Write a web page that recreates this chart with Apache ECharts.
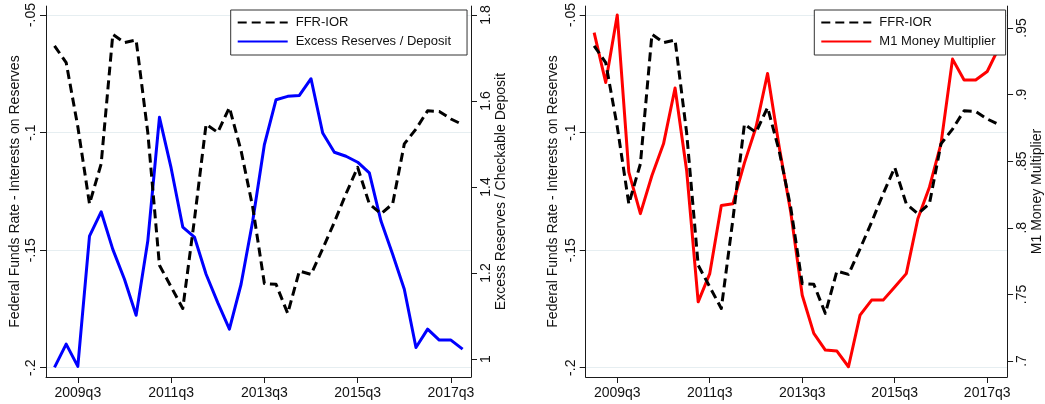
<!DOCTYPE html>
<html>
<head>
<meta charset="utf-8">
<script src="https://cdn.jsdelivr.net/npm/echarts@6.0.0/dist/echarts.min.js"></script>
<style>
  html, body { margin: 0; padding: 0; background: #ffffff; }
  #chart { width: 1045px; height: 404px; }
</style>
</head>
<body>
<div id="chart"></div>
<script>
// ---- data (quarterly, 2009q1 .. 2017q4) ----
const quarters = [
  "2009q1","2009q2","2009q3","2009q4","2010q1","2010q2","2010q3","2010q4",
  "2011q1","2011q2","2011q3","2011q4","2012q1","2012q2","2012q3","2012q4",
  "2013q1","2013q2","2013q3","2013q4","2014q1","2014q2","2014q3","2014q4",
  "2015q1","2015q2","2015q3","2015q4","2016q1","2016q2","2016q3","2016q4",
  "2017q1","2017q2","2017q3","2017q4"
];
const ffrIor = [
  -0.0631, -0.0702, -0.0975, -0.1303, -0.1133, -0.0582, -0.0617, -0.0606,
  -0.1000, -0.1564, -0.1656, -0.1748, -0.1370, -0.0964, -0.0999, -0.0893,
  -0.1077, -0.1317, -0.1642, -0.1645, -0.1769, -0.1589, -0.1603, -0.1494,
  -0.1381, -0.1260, -0.1148, -0.1303, -0.1345, -0.1303, -0.1048, -0.0985,
  -0.0907, -0.0910, -0.0942, -0.0966
];
const excessReserves = [
  0.9805, 1.0348, 0.9830, 1.2860, 1.3425, 1.2552, 1.1856, 1.1020,
  1.2745, 1.5622, 1.4445, 1.3070, 1.2838, 1.1972, 1.1313, 1.0696,
  1.1740, 1.3209, 1.4988, 1.6032, 1.6110, 1.6130, 1.6520, 1.5258,
  1.4810, 1.4717, 1.4578, 1.4330, 1.3209, 1.2436, 1.1624, 1.0270,
  1.0696, 1.0441, 1.0441, 1.0232
];
const m1Multiplier = [
  0.9465, 0.9091, 0.9597, 0.8417, 0.8106, 0.8392, 0.8630, 0.9049,
  0.8430, 0.7444, 0.7656, 0.8168, 0.8180, 0.8487, 0.8754, 0.9158,
  0.8610, 0.8120, 0.7494, 0.7207, 0.7082, 0.7075, 0.6957, 0.7344,
  0.7457, 0.7457, 0.7556, 0.7656, 0.8068, 0.8305, 0.8630, 0.9266,
  0.9109, 0.9109, 0.9173, 0.9350
];
const xTickLabels = ["2009q3","2011q3","2013q3","2015q3","2017q3"];
const ffrTicks = [-0.2, -0.15, -0.1, -0.05];
const ffrTickLabels = ["-.2", "-.15", "-.1", "-.05"];
const erTicks = [1, 1.2, 1.4, 1.6, 1.8];
const erTickLabels = ["1", "1.2", "1.4", "1.6", "1.8"];
const m1Ticks = [0.7, 0.75, 0.8, 0.85, 0.9, 0.95];
const m1TickLabels = [".7", ".75", ".8", ".85", ".9", ".95"];

// ---- helpers ----
const FONT = "Liberation Sans, Arial, Helvetica, sans-serif";
const AX = "#1a1a1a";
const TXT = "#111111";
const GRIDC = "#E6EEF1";
const pairs = (arr) => arr.map((v, i) => [i, v]);
const xTickPos = xTickLabels.map(l => quarters.indexOf(l));
function labelFor(ticks, labels) {
  return function (v) {
    for (let i = 0; i < ticks.length; i++) {
      if (Math.abs(ticks[i] - v) < 1e-6) return labels[i];
    }
    return "";
  };
}

function xAxis(gi) {
  return {
    gridIndex: gi, type: "value", min: -0.73, max: 35.72,
    axisLine: { show: true, onZero: false, lineStyle: { color: AX, width: 1 } },
    axisTick: { show: true, length: 6, customValues: xTickPos, lineStyle: { color: AX } },
    axisLabel: {
      customValues: xTickPos, fontSize: 14, fontFamily: FONT, color: TXT, margin: 9,
      formatter: (v) => quarters[Math.round(v)]
    },
    splitLine: { show: false }
  };
}
function yAxis(gi, pos, min, max, ticks, labels, name, gap, grid) {
  return {
    gridIndex: gi, type: "value", position: pos, min: min, max: max,
    name: name, nameLocation: "middle", nameRotate: 90, nameGap: gap,
    nameTextStyle: { fontSize: 14, fontFamily: FONT, color: TXT },
    axisLine: { show: true, onZero: false, lineStyle: { color: AX, width: 1 } },
    axisTick: { show: true, length: 6, customValues: ticks, lineStyle: { color: AX } },
    axisLabel: {
      customValues: ticks, rotate: 90, fontSize: 14, fontFamily: FONT, color: TXT, margin: 8,
      formatter: labelFor(ticks, labels)
    },
    splitLine: { show: grid, lineStyle: { color: GRIDC, width: 1.2 } }
  };
}
function legend(left, names, padRight) {
  return {
    left: left, top: 10, orient: "vertical",
    data: names, itemWidth: 50, itemHeight: 14, itemGap: 6,
    padding: [6, padRight, 7, 6],
    backgroundColor: "#ffffff", borderColor: "#333333", borderWidth: 1, borderRadius: 0,
    itemStyle: { opacity: 0, borderWidth: 0 },
    textStyle: { fontSize: 13, fontFamily: FONT, color: TXT, padding: [0, 0, 0, 3] },
    selectedMode: false
  };
}
const dashStyle = { color: "#000000", width: 3, type: [9, 5], cap: "butt", join: "round" };

const option = {
  backgroundColor: "#ffffff",
  animation: false,
  grid: [
    { left: 46, top: 5, width: 425, height: 372, containLabel: false },
    { left: 585.7, top: 5, width: 424.3, height: 372, containLabel: false }
  ],
  xAxis: [xAxis(0), xAxis(1)],
  yAxis: [
    yAxis(0, "left", -0.20394, -0.04618, ffrTicks, ffrTickLabels,
          "Federal Funds Rate - Interests on Reserves", 24, true),
    yAxis(0, "right", 0.9583, 1.8209, erTicks, erTickLabels,
          "Excess Reserves / Checkable Deposit", 19, false),
    yAxis(1, "left", -0.20394, -0.04618, ffrTicks, ffrTickLabels,
          "Federal Funds Rate - Interests on Reserves", 26, true),
    yAxis(1, "right", 0.688, 0.9664, m1Ticks, m1TickLabels,
          "M1 Money Multiplier", 22, false)
  ],
  legend: [
    legend(230.7, ["FFR-IOR", "Excess Reserves / Deposit"], 16),
    legend(814.3, ["FFR-IOR", "M1 Money Multiplier"], 10)
  ],
  series: [
    { name: "FFR-IOR", type: "line", xAxisIndex: 0, yAxisIndex: 0, data: pairs(ffrIor),
      symbol: "none", lineStyle: dashStyle, itemStyle: { color: "#000000" }, z: 3 },
    { name: "Excess Reserves / Deposit", type: "line", xAxisIndex: 0, yAxisIndex: 1, data: pairs(excessReserves),
      symbol: "none", lineStyle: { color: "#0000FF", width: 3, join: "round" }, itemStyle: { color: "#0000FF" }, z: 2 },
    { name: "FFR-IOR", type: "line", xAxisIndex: 1, yAxisIndex: 2, data: pairs(ffrIor),
      symbol: "none", lineStyle: dashStyle, itemStyle: { color: "#000000" }, z: 3 },
    { name: "M1 Money Multiplier", type: "line", xAxisIndex: 1, yAxisIndex: 3, data: pairs(m1Multiplier),
      symbol: "none", lineStyle: { color: "#FF0000", width: 3, join: "round" }, itemStyle: { color: "#FF0000" }, z: 2 }
  ]
};
const chart = echarts.init(document.getElementById("chart"), null, { renderer: "canvas" });
chart.setOption(option);
</script>
</body>
</html>
